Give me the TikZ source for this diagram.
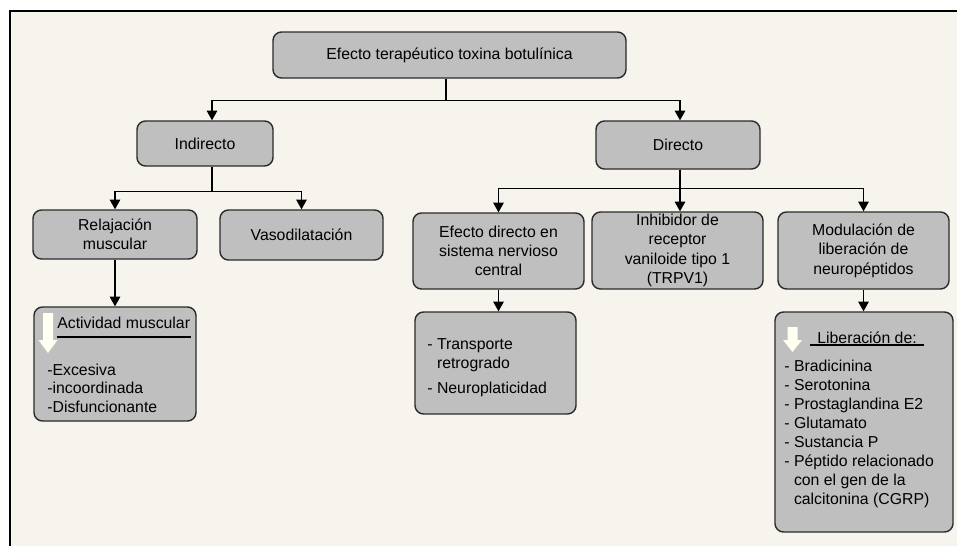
\documentclass[tikz,border=0pt]{standalone}
\usepackage{fontspec}
\setmainfont{Liberation Sans}
\usetikzlibrary{arrows.meta}
\definecolor{fondo}{HTML}{F7F4EE}
\definecolor{gris}{HTML}{BFBFBF}
\definecolor{borde}{HTML}{2A2A2A}
\definecolor{marfil}{HTML}{FFFFF2}
% flecha blanca: (centro x, arriba)(media anchura:largo:largo punta)
\def\flecha(#1,#2)(#3:#4:#5){\fill[marfil] (#1-#3,#2) -- (#1+#3,#2) -- (#1+#3,#2+#4-#5) -- (#1+#3+4.5,#2+#4-#5) -- (#1,#2+#4) -- (#1-#3-4.5,#2+#4-#5) -- (#1-#3,#2+#4-#5) -- cycle;}

\begin{document}
\begin{tikzpicture}[x=0.2mm,y=-0.2mm,
	caja/.style={draw=borde,fill=gris,line width=0.8pt,rounded corners=1.7mm,inner sep=0pt,align=center,font=\fontsize{9}{11}\selectfont},
	tam/.style 2 args={minimum width=#1*0.2mm,minimum height=#2*0.2mm},
	lista/.style={anchor=west,align=left,inner sep=0pt,font=\fontsize{9}{10.8}\selectfont},
	flechita/.style={-{Triangle[width=6pt,length=5.5pt]},line width=0.7pt}]
			%%%%% FONDO %%%%%
			\useasboundingbox (0,0) rectangle (957,546);
			\fill[fondo] (10,11) rectangle (957,546);
			\draw[line width=1pt] (957,11) -- (10,11) -- (10,546);
			
			%%%%% CAJAS %%%%%
			\node[caja,tam={353}{46}] (top) at (449.5,55) {Efecto terapéutico toxina botulínica};
			
			\node[caja,tam={136}{45}] (ind) at (205,143.5) {Indirecto};
			\node[caja,tam={164}{48}] (dir) at (678,145) {Directo};
			
			\node[caja,tam={164}{49}] (rel) at (115,234.5) {Relajación\\muscular};
			\node[caja,tam={163}{50}] (vaso) at (301.5,235) {Vasodilatación};
			
			\node[caja,tam={171}{76}] (efd) at (498.5,251) {Efecto directo en\\sistema nervioso\\central};
			\node[caja,tam={171}{77}] (inh) at (677.5,250.5) {Inhibidor de\\receptor\\vaniloide tipo 1\\(TRPV1)};
			\node[caja,tam={171}{77}] (mod) at (863.5,250.5) {Modulación de\\liberación de\\neuropéptidos};
			
			\node[caja,tam={162}{114}] (act) at (115,364) {};
			\node[caja,tam={161}{102}] (trans) at (495.5,363) {};
			\node[caja,tam={178}{220}] (lib) at (864,422) {};
			
			%%%%% CONTENIDO %%%%%
			\flecha(48,313)(5:40:13)
			\node[lista] (titA) at (57,323) {Actividad muscular};
			\draw[line width=0.8pt] (57,337) -- (191,337);
			\node[lista,font=\fontsize{9}{10.5}\selectfont] (listaA) at (47,388) {-Excesiva\\-incoordinada\\-Disfuncionante};
			
			\node[lista] (listaT) at (427,368) {- Transporte\\\hphantom{- }retrogrado\\[3.5pt]- Neuroplaticidad};
			
			\flecha(792.5,327)(5:25:12)
			\node[lista] (titL) at (817,338) {Liberación de:};
			\draw[line width=0.8pt] (810,345) -- (924,345);
			\node[lista] (listaL) at (784,434) {- Bradicinina\\- Serotonina\\- Prostaglandina E2\\- Glutamato\\- Sustancia P\\- Péptido relacionado\\\hphantom{- }con el gen de la\\\hphantom{- }calcitonina (CGRP)};
			
			%%%%% FLECHAS %%%%%
			\draw[flechita] ([xshift=-0.7mm]top.south) -- ++(0,22) -| ([xshift=1.4mm]ind.north);
			\draw[flechita] ([xshift=-0.7mm]top.south) -- ++(0,22) -| ([xshift=0.4mm]dir.north);
			
			\draw[flechita] ([xshift=1.4mm]ind.south) -- ++(0,25) -| (rel.north);
			\draw[flechita] ([xshift=1.4mm]ind.south) -- ++(0,25) -| (vaso.north);
			
			\draw[flechita] ([xshift=0.4mm]dir.south) -- ++(0,19) -| (efd.north);
			\draw[flechita] ([xshift=0.4mm]dir.south) -- ([xshift=0.4mm]dir.south |- inh.north);
			\draw[flechita] ([xshift=0.4mm]dir.south) -- ++(0,19) -| (mod.north);
			
			\draw[flechita] (rel.south) -- (act.north);
			\draw[flechita] (efd.south) -- (efd.south |- trans.north);
			\draw[flechita] (mod.south) -- (mod.south |- lib.north);
			
			%%%%% FIN %%%%%
\end{tikzpicture}
\end{document}
